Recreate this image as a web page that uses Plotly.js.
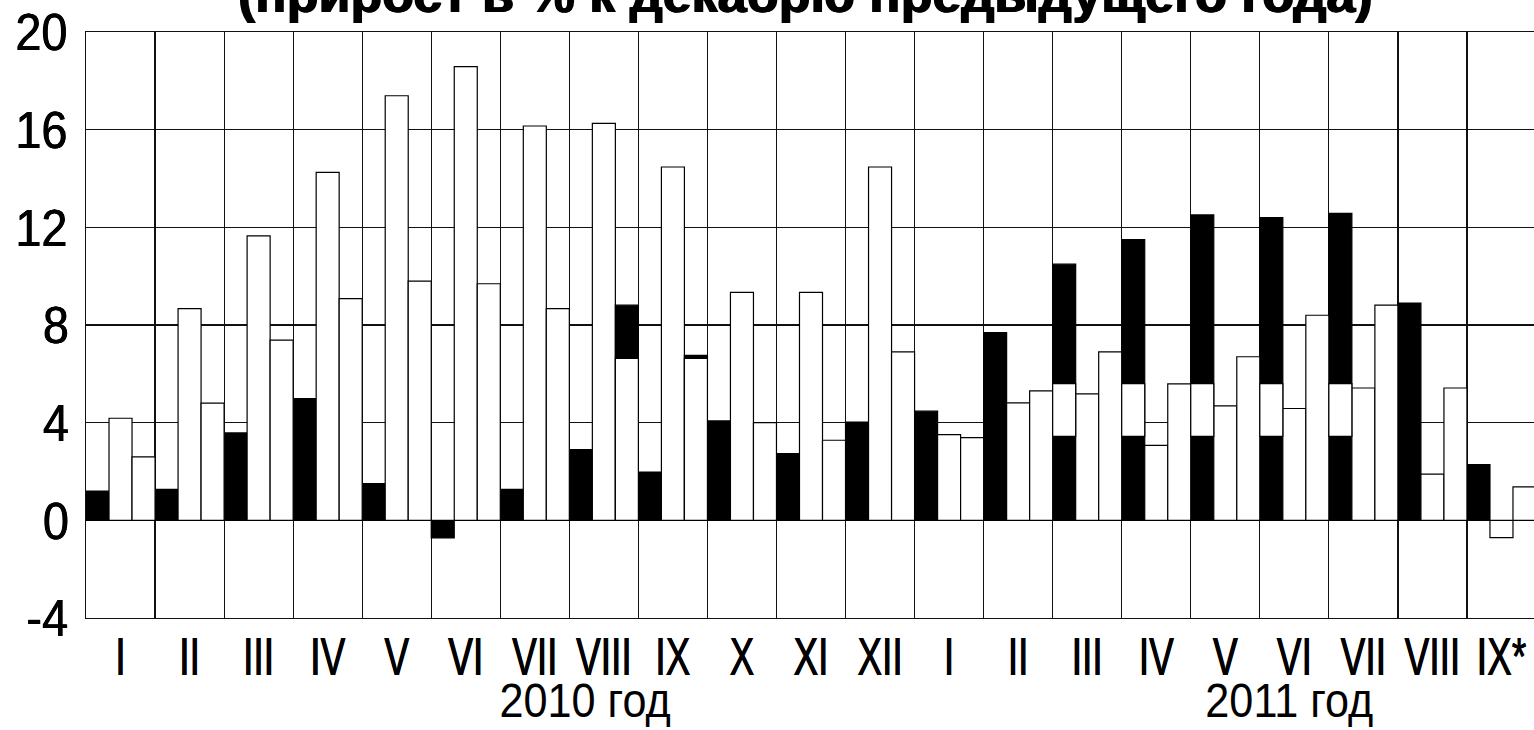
<!DOCTYPE html>
<html>
<head>
<meta charset="utf-8">
<script src="https://cdn.plot.ly/plotly-3.0.1.min.js"></script>
<style>
html,body{margin:0;padding:0;background:#fff;overflow:hidden;}
#chart{width:1536px;height:730px;}
</style>
</head>
<body>
<div id="chart"></div>
<script>
// Month labels (2010: I–XII, 2011: I–IX*)
const months = ['I','II','III','IV','V','VI','VII','VIII','IX','X','XI','XII',
                'I','II','III','IV','V','VI','VII','VIII','IX*'];
const yearLabels = ['2010 год', '2011 год'];
const titleText = '(прирост в % к декабрю предыдущего года)';
const yTickVals = [-4, 0, 4, 8, 12, 16, 20];
const yTickText = ['-4', '0', '4', '8', '12', '16', '20'];

// Series 1 (black bars)
const blackVals = [1.2, 1.27, 3.58, 4.99, 1.5, -0.72, 1.27, 2.9, 1.98, 4.07, 2.73, 4.02,
                   4.47, 7.69, 10.49, 11.5, 12.51, 12.4, 12.57, 8.9, 2.28];
// Series 2 (white, middle bars)
const midVals = [4.18, 8.67, 11.65, 14.25, 17.39, 18.58, 16.15, 16.26, 14.47, 9.34, 9.34, 14.47,
                 3.51, 4.81, 5.18, 3.07, 4.69, 4.58, 5.42, 1.89, -0.71];
// Series 3 (white, right bars)
const rightVals = [2.6, 4.8, 7.38, 9.08, 9.8, 9.69, 8.67, 6.63, 6.63, 4.0, 3.28, 6.9,
                   3.39, 5.3, 6.9, 5.59, 6.7, 8.4, 8.81, 5.42, 1.37];
// Black bars showing behind series 3 (VIII, IX 2010)
const rightBackVals = [null, null, null, null, null, null, null, 8.81, 6.76, null, null, null,
                       null, null, null, null, null, null, null, null, null];
// White window inside black bars (III–VII 2011)
const windowLow  = [null, null, null, null, null, null, null, null, null, null, null, null,
                    null, null, 3.44, 3.44, 3.44, 3.44, 3.44, null, null];
const windowHigh = [null, null, null, null, null, null, null, null, null, null, null, null,
                    null, null, 5.6, 5.6, 5.6, 5.6, 5.6, null, null];

const idx = months.map((m, i) => i);
const bounds = months.concat(['']).map((m, i) => i - 0.5);
const w = 1 / 3;
const line = {color: '#000', width: 1.2};

const traces = [
  {type: 'bar', x: idx, y: blackVals, width: w, offset: -0.5,
   marker: {color: '#000', line: line}},
  {type: 'bar', x: idx, y: midVals, width: w, offset: -0.5 + w,
   marker: {color: '#fff', line: line}},
  {type: 'bar', x: idx, y: rightBackVals, width: w, offset: -0.5 + 2 * w,
   marker: {color: '#000', line: line}},
  {type: 'bar', x: idx, y: rightVals, width: w, offset: -0.5 + 2 * w,
   marker: {color: '#fff', line: line}},
  {type: 'bar', x: idx, base: windowLow,
   y: windowHigh.map((v, i) => (v === null ? null : v - windowLow[i])),
   width: w, offset: -0.5, marker: {color: '#fff', line: line}}
];

const sans = 'Liberation Sans, Arial, sans-serif';

const layout = {
  width: 1536, height: 730,
  margin: {l: 86, r: 0, t: 32, b: 112},
  paper_bgcolor: '#fff', plot_bgcolor: '#fff',
  showlegend: false,
  barmode: 'overlay',
  xaxis: {
    range: [-0.5, months.length - 0.5],
    tickmode: 'array', tickvals: idx, ticktext: months,
    tickangle: 0, ticklabeloverflow: 'allow',
    showgrid: false, zeroline: false,
    showline: true, mirror: true, linecolor: '#111', linewidth: 1.2,
    ticks: '', ticklabelstandoff: -8,
    tickfont: {family: sans, size: 53, color: '#000', shadow: '0.5px 0 0 #000, -0.5px 0 0 #000'},
    minor: {tickmode: 'array', tickvals: bounds, showgrid: true,
            gridcolor: '#111', gridwidth: 1.2, ticks: ''},
    fixedrange: true
  },
  yaxis: {
    range: [-4, 20], tickmode: 'array', tickvals: yTickVals, ticktext: yTickText,
    showgrid: true, gridcolor: '#111', gridwidth: 1.2,
    zeroline: true, zerolinecolor: '#111', zerolinewidth: 1.2,
    showline: true, mirror: true, linecolor: '#111', linewidth: 1.2,
    ticks: '', ticklabelstandoff: 4,
    tickfont: {family: sans, size: 52, color: '#000', shadow: '0.4px 0 0 #000, -0.4px 0 0 #000'},
    fixedrange: true
  },
  annotations: [
    {text: yearLabels[0], xref: 'paper', yref: 'paper', x: 0.344, y: -0.14,
     xanchor: 'center', yanchor: 'middle', showarrow: false,
     font: {family: sans, size: 48, color: '#000'}},
    {text: yearLabels[1], xref: 'paper', yref: 'paper', x: 0.83, y: -0.14,
     xanchor: 'center', yanchor: 'middle', showarrow: false,
     font: {family: sans, size: 48, color: '#000'}},
    {text: '<b>' + titleText + '</b>', xref: 'paper', yref: 'paper', x: 0.496, y: 1.012,
     xanchor: 'center', yanchor: 'bottom', showarrow: false,
     font: {family: sans, size: 52, color: '#000', shadow: '0.8px 0 0 #000, -0.8px 0 0 #000'}}
  ]
};

// Narrow the glyphs horizontally (the reference uses a condensed face)
function condense(el, f) {
  const bb = el.getBBox();
  const cx = bb.x + bb.width / 2;
  const t = el.getAttribute('transform') || '';
  el.setAttribute('transform', t + ' translate(' + cx + ',0) scale(' + f + ',1) translate(' + (-cx) + ',0)');
}

Plotly.newPlot('chart', traces, layout, {displayModeBar: false, staticPlot: true}).then(gd => {
  gd.querySelectorAll('.xtick text').forEach(el => condense(el, 0.7));
  gd.querySelectorAll('.ytick text').forEach(el => condense(el, 0.9));
  gd.querySelectorAll('.annotation').forEach(g => {
    const i = +g.getAttribute('data-index');
    if (i === 0 || i === 1) {
      const t = g.querySelector('text');
      if (t) condense(t, 0.9);
    }
  });
});
</script>
</body>
</html>
